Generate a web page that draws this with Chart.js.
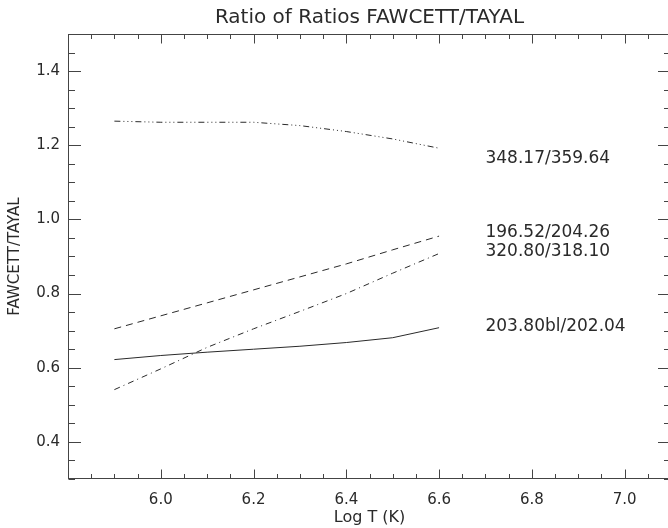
<!DOCTYPE html>
<html>
<head>
<meta charset="utf-8">
<script src="https://cdn.jsdelivr.net/npm/chart.js@4"></script>
<style>
  html, body { margin: 0; padding: 0; overflow: hidden; background: #fff; }
</style>
</head>
<body>
<canvas id="chart" width="672" height="528"></canvas>
<script>
const logT = [5.9, 6.0, 6.1, 6.2, 6.3, 6.4, 6.5, 6.6]
const ratio348 = [1.265, 1.262, 1.262, 1.262, 1.253, 1.237, 1.217, 1.192]
const ratio196 = [0.705, 0.74, 0.775, 0.81, 0.845, 0.88, 0.918, 0.955]
const ratio320 = [0.541, 0.597, 0.655, 0.705, 0.752, 0.8, 0.855, 0.908]
const ratio203 = [0.622, 0.633, 0.642, 0.65, 0.658, 0.668, 0.681, 0.708]
const lineNames = ['348.17/359.64', '196.52/204.26', '320.80/318.10', '203.80bl/202.04']
const xTicks = [6.0, 6.2, 6.4, 6.6, 6.8, 7.0]
const yTicks = [0.4, 0.6, 0.8, 1.0, 1.2, 1.4]

const ink = '#2a2a2a'
const font = 'DejaVu Sans'

// where the line names sit, in data units
const nameX = 6.7
const nameY = [1.165, 0.964, 0.914, 0.712]

const points = vals => logT.map((t, i) => ({ x: t, y: vals[i] }))

// IDL style box: inward ticks on all four sides plus the line names
const frame = {
  id: 'frame',
  afterDatasetsDraw (chart) {
    const { ctx, chartArea: a, scales: { x, y } } = chart
    const L = Math.round(a.left) + 0.5
    const R = Math.round(a.right) - 0.5
    const T = Math.round(a.top) + 0.5
    const B = Math.round(a.bottom) - 0.5
    ctx.save()
    ctx.strokeStyle = '#444'
    ctx.lineWidth = 1
    ctx.strokeRect(L, T, R - L, B - T)
    ctx.beginPath()
    for (let i = 116; i <= 142; i++) {
      const px = Math.round(x.getPixelForValue(i / 20)) + 0.5
      const len = i % 4 === 0 ? 9 : 4.5
      ctx.moveTo(px, B); ctx.lineTo(px, B - len)
      ctx.moveTo(px, T); ctx.lineTo(px, T + len)
    }
    for (let i = 6; i <= 30; i++) {
      const py = Math.round(y.getPixelForValue(i / 20)) + 0.5
      const len = i % 4 === 0 ? 12.5 : 6.5
      ctx.moveTo(L, py); ctx.lineTo(L + len, py)
      ctx.moveTo(R, py); ctx.lineTo(R - len, py)
    }
    ctx.stroke()

    ctx.fillStyle = ink
    ctx.font = `17px "${font}"`
    ctx.textAlign = 'left'
    ctx.textBaseline = 'middle'
    lineNames.forEach((name, i) => {
      ctx.fillText(name, x.getPixelForValue(nameX), y.getPixelForValue(nameY[i]))
    })
    ctx.restore()
  }
}

const base = { borderColor: ink, borderWidth: 1, pointRadius: 0, fill: false, tension: 0 }

new Chart(document.getElementById('chart'), {
  type: 'line',
  data: {
    datasets: [
      { ...base, label: lineNames[0], data: points(ratio348), borderDash: [6, 3, 1, 3, 1, 3, 1, 3] },
      { ...base, label: lineNames[1], data: points(ratio196), borderDash: [7, 5] },
      { ...base, label: lineNames[2], data: points(ratio320), borderDash: [6, 4, 1, 4] },
      { ...base, label: lineNames[3], data: points(ratio203) }
    ]
  },
  options: {
    responsive: false,
    animation: false,
    layout: { padding: { right: 1 } },
    plugins: {
      legend: { display: false },
      tooltip: { enabled: false },
      title: {
        display: true,
        fullSize: false,
        text: 'Ratio of Ratios FAWCETT/TAYAL',
        color: ink,
        font: { family: font, size: 20, weight: 'normal', lineHeight: 1.2 },
        padding: { top: 6, bottom: 4 }
      }
    },
    scales: {
      x: {
        type: 'linear',
        min: 5.8,
        max: 7.1,
        grid: { display: false },
        border: { display: false },
        afterBuildTicks: scale => { scale.ticks = xTicks.map(v => ({ value: v })) },
        afterFit: scale => { scale.height = 49 },
        ticks: {
          color: ink,
          padding: 4,
          font: { family: font, size: 15 },
          callback: v => v.toFixed(1)
        },
        title: {
          display: true,
          text: 'Log T (K)',
          color: ink,
          font: { family: font, size: 16, lineHeight: 1.2 },
          padding: { top: 0, bottom: 1 }
        }
      },
      y: {
        min: 0.3,
        max: 1.5,
        grid: { display: false },
        border: { display: false },
        afterBuildTicks: scale => { scale.ticks = yTicks.map(v => ({ value: v })) },
        afterFit: scale => { scale.width = 68 },
        ticks: {
          color: ink,
          padding: 0,
          font: { family: font, size: 15 },
          callback: v => v.toFixed(1)
        },
        title: {
          display: true,
          text: 'FAWCETT/TAYAL',
          color: ink,
          font: { family: font, size: 15, lineHeight: 1.2 },
          padding: { top: 6, bottom: 0 }
        }
      }
    }
  },
  plugins: [frame]
})
</script>
</body>
</html>
